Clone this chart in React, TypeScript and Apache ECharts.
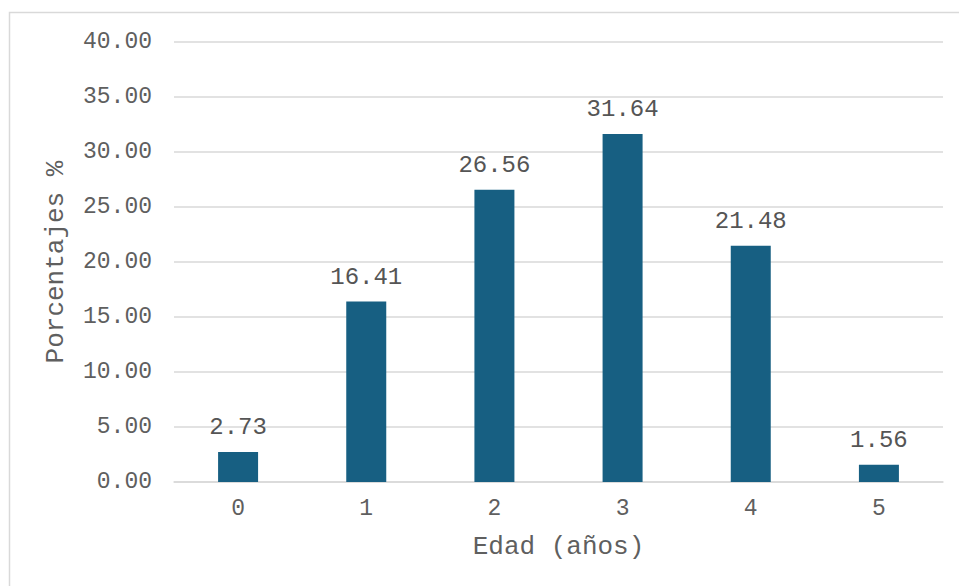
import React, { useEffect, useRef } from "react";
import * as echarts from "echarts";

const categories = ["0", "1", "2", "3", "4", "5"];
const values = [2.73, 16.41, 26.56, 31.64, 21.48, 1.56];
const yTicks = { min: 0, max: 40, interval: 5 };
const xName = "Edad (años)";
const yName = "Porcentajes %";

const FONT = "'Liberation Mono', 'Courier New', monospace";
const TXT = "#5f5f5f";

export default function App() {
  const ref = useRef<HTMLDivElement>(null);
  useEffect(() => {
    if (!ref.current) return;
    const chart = echarts.init(ref.current, undefined, { renderer: "svg" });
    chart.setOption({
      animation: false,
      backgroundColor: "#ffffff",
      graphic: [
        {
          type: "rect",
          shape: { x: 9.5, y: 12.5, width: 1000, height: 1000 },
          style: { fill: "none", stroke: "#d9d9d9", lineWidth: 1.5 },
          silent: true,
        },
      ],
      grid: { left: 174, right: 16, top: 42, bottom: 104, containLabel: false },
      xAxis: {
        type: "category",
        data: categories,
        name: xName,
        nameLocation: "middle",
        nameGap: 52,
        nameTextStyle: { fontFamily: FONT, fontSize: 26, color: TXT },
        axisLine: { show: true, lineStyle: { color: "#d9d9d9", width: 1.5 } },
        axisTick: { show: false },
        axisLabel: { fontFamily: FONT, fontSize: 23, color: TXT, margin: 15 },
      },
      yAxis: {
        type: "value",
        min: yTicks.min,
        max: yTicks.max,
        interval: yTicks.interval,
        name: yName,
        nameLocation: "middle",
        nameGap: 105,
        nameRotate: 90,
        nameTextStyle: { fontFamily: FONT, fontSize: 26, color: TXT },
        axisLine: { show: false },
        axisTick: { show: false },
        splitLine: { lineStyle: { color: "#d9d9d9", width: 1.5 } },
        axisLabel: {
          fontFamily: FONT,
          fontSize: 23,
          color: TXT,
          margin: 22,
          formatter: (v: number) => v.toFixed(2),
        },
      },
      series: [
        {
          type: "bar",
          data: values,
          barWidth: 40,
          itemStyle: { color: "#175f82" },
          label: {
            show: true,
            position: "top",
            distance: 12,
            fontFamily: FONT,
            fontSize: 24,
            color: "#555555",
            formatter: (p: any) => p.value.toFixed(2),
          },
        },
      ],
    });
    return () => chart.dispose();
  }, []);
  return (
    <div
      ref={ref}
      style={{ position: "absolute", left: 0, top: 0, width: 959, height: 586 }}
    />
  );
}
